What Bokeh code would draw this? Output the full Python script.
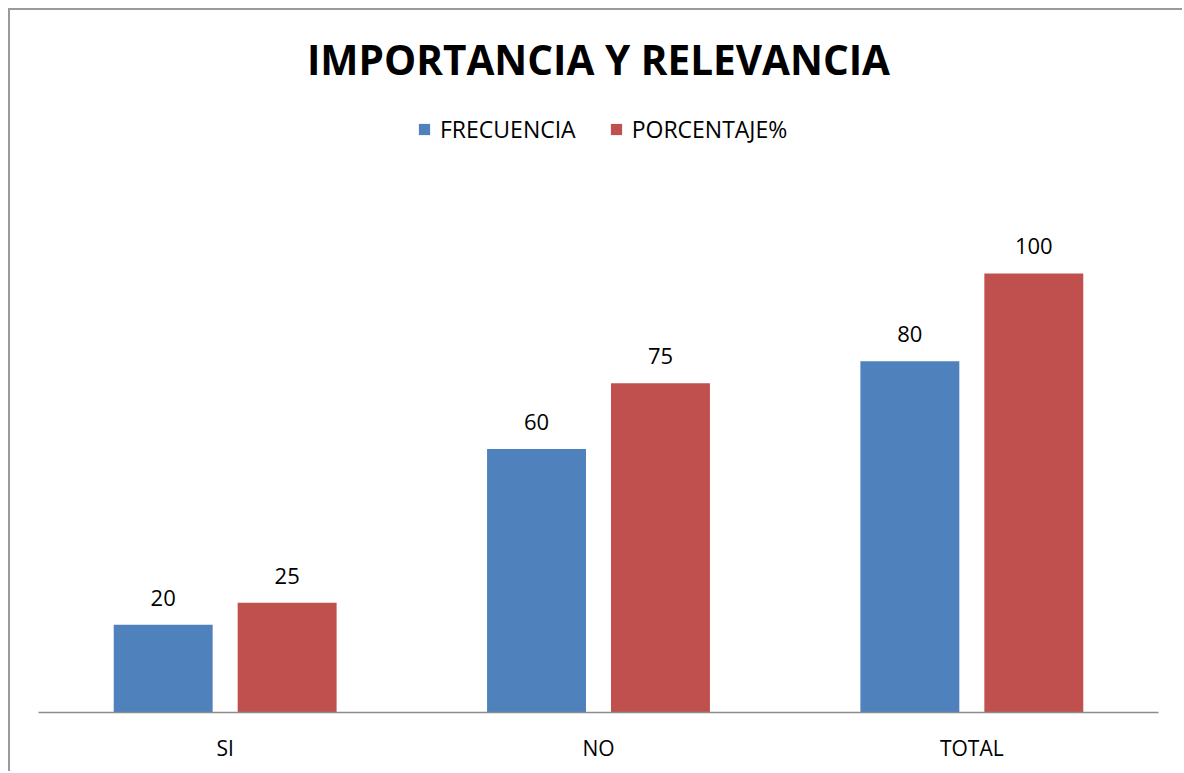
from bokeh.plotting import figure
from bokeh.models import ColumnDataSource, FactorRange, Range1d, Legend, LegendItem, LabelSet
from bokeh.transform import dodge
from bokeh.core.properties import value
from bokeh.embed import file_html
from bokeh.resources import INLINE

categories = ["SI", "NO", "TOTAL"]
frecuencia = [20, 60, 80]
porcentaje = [25, 75, 100]
series_names = ["FRECUENCIA", "PORCENTAJE%"]
title_text = "IMPORTANCIA Y RELEVANCIA"

BLUE = "#4F81BD"
RED = "#C0504D"
FONT = "Open Sans"

src = ColumnDataSource(dict(
    cat=categories,
    frec=frecuencia,
    porc=porcentaje,
    frec_txt=[str(v) for v in frecuencia],
    porc_txt=[str(v) for v in porcentaje],
))

p = figure(
    width=1174, height=763,
    x_range=FactorRange(*categories, range_padding=0),
    y_range=Range1d(0, 159.9),
    output_backend="svg", toolbar_location=None, tools="",
    min_border_left=28, min_border_right=26, min_border_top=0, min_border_bottom=61,
)
p.styles = {"border-left": "2px solid #9a9a9a", "border-top": "2px solid #9a9a9a",
            "border-right": "none", "border-bottom": "none",
            "outline": "none", "box-shadow": "none",
            "margin-left": "8px", "margin-top": "8px"}
p.outline_line_color = None
p.background_fill_color = "white"
p.border_fill_color = "white"
p.xgrid.grid_line_color = None
p.ygrid.grid_line_color = None
p.yaxis.visible = False

off = 0.166
w = 0.265
r1 = p.vbar(x=dodge("cat", -off, range=p.x_range), top="frec", width=w, source=src,
            fill_color=BLUE, line_color=None)
r2 = p.vbar(x=dodge("cat", off, range=p.x_range), top="porc", width=w, source=src,
            fill_color=RED, line_color=None)

for col, txt, o in (("frec", "frec_txt", -off), ("porc", "porc_txt", off)):
    p.add_layout(LabelSet(x=dodge("cat", o, range=p.x_range), y=col, text=txt, source=src,
                          y_offset=19, text_align="center", text_baseline="alphabetic",
                          text_font=value(FONT), text_font_size="22px", text_color="black"))

title_src = ColumnDataSource(dict(x=[categories[1]], y=[145.3], text=[title_text]))
p.add_layout(LabelSet(x="x", y="y", text="text", source=title_src, text_align="center",
                      text_baseline="alphabetic", text_font=value(FONT),
                      text_font_size="40.5px", text_font_style="bold", text_color="black"))

legend = Legend(items=[LegendItem(label=series_names[0], renderers=[r1]),
                       LegendItem(label=series_names[1], renderers=[r2])],
                orientation="horizontal", location=(379, 567),
                glyph_width=14, glyph_height=14, label_standoff=9, spacing=33,
                padding=0, margin=0, border_line_color=None, background_fill_alpha=0,
                label_text_font=FONT, label_text_font_size="23px", label_text_color="black")
p.add_layout(legend, "center")

ax = p.xaxis[0]
ax.axis_line_color = "#8c8c8c"
ax.axis_line_width = 1.5
ax.major_tick_line_color = None
ax.minor_tick_line_color = None
ax.major_tick_out = 0
ax.major_tick_in = 0
ax.major_label_standoff = 21
ax.major_label_text_font = FONT
ax.major_label_text_font_size = "21px"
ax.major_label_text_color = "black"

open("out.html", "w").write(file_html(p, INLINE))
